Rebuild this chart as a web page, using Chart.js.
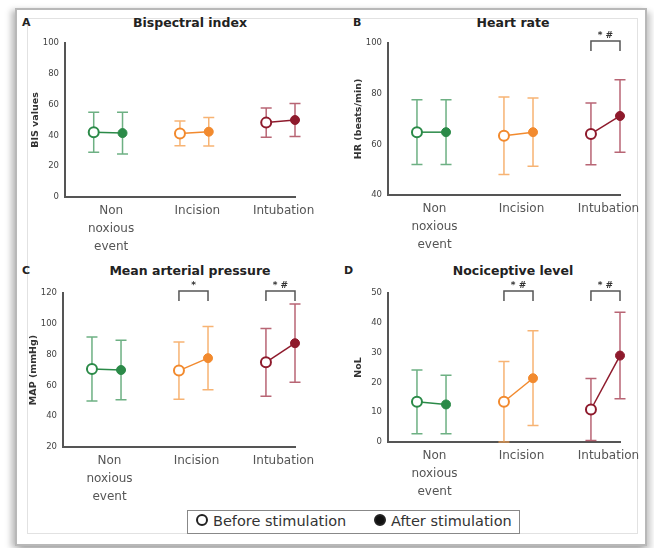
<!DOCTYPE html>
<html>
<head>
<meta charset="utf-8">
<script src="https://cdn.jsdelivr.net/npm/chart.js@4.4.1/dist/chart.umd.min.js"></script>
<style>
  body { margin: 0; background: #fff; font-family: "DejaVu Sans", sans-serif; }
  #page { position: relative; width: 654px; height: 548px; overflow: hidden; background: #fff; }
  #frame { position: absolute; left: 15px; top: 8px; width: 628px; height: 534px; background: #fff;
           border: 2px solid #b8b8b8; box-shadow: -4px 2px 6px rgba(0,0,0,0.25), 4px 4px 6px rgba(0,0,0,0.2); }
  #inner { position: absolute; left: 27px; top: 18px; width: 609px; height: 514px; border: 1px solid #e2e2e2; }
  .panel { position: absolute; }
  .title { position: absolute; font-size: 12.5px; font-weight: bold; color: #222; transform: translateX(-50%); white-space: nowrap; }
  .letter { position: absolute; font-size: 11px; font-weight: bold; color: #222; }
  #legend { position: absolute; left: 187px; top: 510px; width: 331px; height: 22px; border: 1px solid #888;
            background: #fff; font-size: 14.5px; color: #333; }
  #legend span.item { position: absolute; top: 2px; white-space: nowrap; }
  .dot { display: inline-block; width: 8px; height: 8px; border-radius: 50%; border: 2px solid #222;
         vertical-align: 0px; margin-right: 5px; }
</style>
</head>
<body>
<div id="page">
  <div id="frame"></div>
  <div id="inner"></div>

  <div class="letter" style="left:22px;top:16px">A</div>
  <div class="title" style="left:190px;top:15px">Bispectral index</div>
  <div class="letter" style="left:353px;top:16px">B</div>
  <div class="title" style="left:513px;top:15px">Heart rate</div>
  <div class="letter" style="left:22px;top:264px">C</div>
  <div class="title" style="left:190px;top:263px">Mean arterial pressure</div>
  <div class="letter" style="left:344px;top:264px">D</div>
  <div class="title" style="left:513px;top:263px">Nociceptive level</div>

  <canvas id="chartA" class="panel" style="left:30px;top:30px" width="300" height="227"></canvas>
  <canvas id="chartB" class="panel" style="left:353px;top:30px" width="300" height="225"></canvas>
  <canvas id="chartC" class="panel" style="left:28px;top:280px" width="302" height="227"></canvas>
  <canvas id="chartD" class="panel" style="left:353px;top:280px" width="300" height="222"></canvas>

  <div id="legend">
    <span class="item" style="left:8px"><span class="dot" style="background:#fff"></span>Before stimulation</span>
    <span class="item" style="left:186px"><span class="dot" style="background:#111"></span>After stimulation</span>
  </div>
</div>

<script>
// categorias e cores
const categories = [["Non", "noxious", "event"], "Incision", "Intubation"];
const colors = ["#2b8a48", "#f28a2e", "#8e1a2c"];
const barColors = ["rgba(60,150,90,0.75)", "rgba(245,160,80,0.8)", "rgba(160,50,70,0.75)"];

// A - Bispectral index (media ± DP)
const bisBefore = [42, 41.3, 48.3];
const bisBeforeSd = [13, 8, 9.5];
const bisAfter = [41.5, 42.4, 50];
const bisAfterSd = [13.5, 9.3, 10.7];
const sigA = ["", "", ""];

// B - Heart rate
const hrBefore = [64.8, 63.4, 64.1];
const hrBeforeSd = [12.8, 15.3, 12.2];
const hrAfter = [64.8, 64.8, 71.2];
const hrAfterSd = [12.8, 13.5, 14.3];
const sigB = ["", "", "* #"];

// C - Mean arterial pressure
const mapBefore = [70.7, 69.6, 75];
const mapBeforeSd = [20.8, 18.6, 22];
const mapAfter = [70, 77.7, 87.4];
const mapAfterSd = [19.3, 20.5, 25.4];
const sigC = ["", "*", "* #"];

// D - Nociceptive level
const nolBefore = [13.5, 13.5, 10.9];
const nolBeforeSd = [10.7, 13.5, 10.4];
const nolAfter = [12.6, 21.4, 29];
const nolAfterSd = [9.8, 15.9, 14.5];
const sigD = ["", "* #", "* #"];

const OFFSET = 0.167;
const FONT = "'DejaVu Sans', sans-serif";

// barras de erro + colchetes de significancia
const errorBarPlugin = {
  id: "errorBars",
  beforeDatasetsDraw(chart) {
    const ctx = chart.ctx;
    const x = chart.scales.x;
    const y = chart.scales.y;
    ctx.save();
    chart.data.datasets.forEach((ds, i) => {
      ctx.strokeStyle = barColors[i];
      ctx.lineWidth = 1.5;
      ds.data.forEach((p) => {
        const px = x.getPixelForValue(p.x);
        const top = y.getPixelForValue(p.y + p.sd);
        const bot = y.getPixelForValue(p.y - p.sd);
        ctx.beginPath();
        ctx.moveTo(px, top); ctx.lineTo(px, bot);
        ctx.moveTo(px - 5.5, top); ctx.lineTo(px + 5.5, top);
        ctx.moveTo(px - 5.5, bot); ctx.lineTo(px + 5.5, bot);
        ctx.stroke();
      });
    });
    ctx.restore();
  },
  afterDraw(chart) {
    const sig = chart.options.plugins.errorBars.sig || [];
    const ctx = chart.ctx;
    const x = chart.scales.x;
    const top = chart.chartArea.top - 2;
    ctx.save();
    ctx.strokeStyle = "#555";
    ctx.lineWidth = 1.5;
    ctx.fillStyle = "#333";
    ctx.font = "bold 9px " + FONT;
    ctx.textAlign = "center";
    sig.forEach((s, i) => {
      if (!s) return;
      const x1 = x.getPixelForValue(i - OFFSET);
      const x2 = x.getPixelForValue(i + OFFSET);
      ctx.beginPath();
      ctx.moveTo(x1, top + 10); ctx.lineTo(x1, top); ctx.lineTo(x2, top); ctx.lineTo(x2, top + 10);
      ctx.stroke();
      ctx.fillText(s, (x1 + x2) / 2, top - 3);
    });
    ctx.restore();
  },
};

function buildDatasets(before, beforeSd, after, afterSd) {
  return categories.map((c, i) => ({
    data: [
      { x: i - OFFSET, y: before[i], sd: beforeSd[i] },
      { x: i + OFFSET, y: after[i], sd: afterSd[i] },
    ],
    borderColor: colors[i],
    borderWidth: 1.5,
    pointBackgroundColor: ["#fff", colors[i]],
    pointBorderColor: colors[i],
    pointBorderWidth: [2, 1],
    pointRadius: [5, 4.5],
    showLine: true,
    clip: false,
  }));
}

function createPanel(canvasId, datasets, yMin, yMax, step, yTitle, sig, padRight) {
  const ctx = document.getElementById(canvasId).getContext("2d");
  return new Chart(ctx, {
    type: "scatter",
    data: { datasets },
    plugins: [errorBarPlugin],
    options: {
      responsive: false,
      animation: false,
      layout: { padding: { top: 13, right: padRight, left: 0, bottom: 0 } },
      plugins: {
        legend: { display: false },
        tooltip: { enabled: false },
        errorBars: { sig },
      },
      scales: {
        x: {
          type: "linear",
          min: -0.5,
          max: 2 + OFFSET,
          afterBuildTicks: (scale) => {
            scale.ticks = [0, 1, 2].map((v) => ({ value: v }));
          },
          afterFit: (scale) => { scale.height = 60; },
          ticks: {
            callback: (v) => categories[v],
            color: "#555",
            maxRotation: 0,
            autoSkip: false,
            padding: 5,
            labelOffset: 3,
            font: { family: FONT, size: 12, lineHeight: 1.5 },
          },
          grid: { display: false, drawTicks: false },
          border: { color: "#555", width: 2 },
        },
        y: {
          min: yMin,
          max: yMax,
          afterFit: (scale) => { scale.width = 35; },
          ticks: {
            stepSize: step,
            color: "#444",
            padding: 2,
            font: { family: FONT, size: 8.5 },
          },
          title: {
            display: true,
            text: yTitle,
            color: "#333",
            padding: 0,
            font: { family: FONT, size: 9.5, weight: "bold" },
          },
          grid: { display: false, drawOnChartArea: false, tickLength: 4, tickColor: "#555", tickWidth: 1.5 },
          border: { color: "#555", width: 2 },
        },
      },
    },
  });
}

createPanel("chartA", buildDatasets(bisBefore, bisBeforeSd, bisAfter, bisAfterSd), 0, 100, 20, "BIS values", sigA, 35);
createPanel("chartB", buildDatasets(hrBefore, hrBeforeSd, hrAfter, hrAfterSd), 40, 100, 20, "HR (beats/min)", sigB, 33);
createPanel("chartC", buildDatasets(mapBefore, mapBeforeSd, mapAfter, mapAfterSd), 20, 120, 20, "MAP (mmHg)", sigC, 35);
createPanel("chartD", buildDatasets(nolBefore, nolBeforeSd, nolAfter, nolAfterSd), 0, 50, 10, "NoL", sigD, 33);
</script>
</body>
</html>
